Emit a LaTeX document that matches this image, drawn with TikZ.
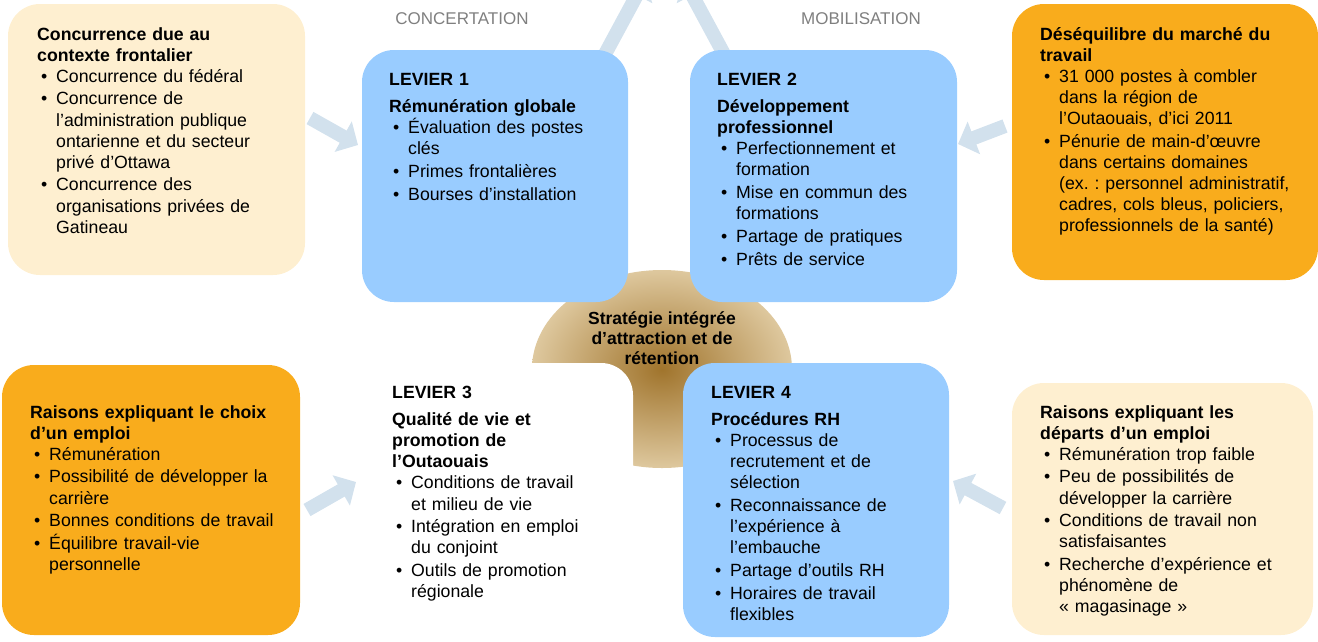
\documentclass[tikz,border=0pt]{standalone}
\usepackage{fontspec}
\setmainfont{Liberation Sans}
\frenchspacing
\usepackage{enumitem}
\setlist[itemize]{label=\textbullet, leftmargin=19pt, labelwidth=15pt, labelsep=0pt, align=left,
  topsep=0pt, partopsep=0pt, parsep=0pt, itemsep=1.6pt}
\usetikzlibrary{arrows.meta, shapes.geometric}
\definecolor{fondbeige}{RGB}{254,239,208}
\definecolor{fondorange}{RGB}{249,172,28}
\definecolor{fondbleu}{RGB}{153,204,255}
\definecolor{flechegris}{RGB}{210,225,237}
\definecolor{brunfonce}{RGB}{160,116,44}
\definecolor{brunclair}{RGB}{222,200,158}
\definecolor{grisetiq}{RGB}{127,127,127}
\tikzset{boite/.style={rectangle, rounded corners=32pt, inner sep=0pt},
	texte/.style={anchor=north west, inner sep=0pt, align=left, text width=#1,
		font=\fontsize{17.7}{21.1}\selectfont},
	centre/.style={align=center, inner sep=0pt, font=\bfseries\fontsize{17.5}{20}\selectfont},
	etiquette/.style={text=grisetiq, inner sep=0pt, font=\fontsize{17}{19}\selectfont},
	fleche/.style={draw=flechegris, line width=14pt, -{Triangle[length=17pt, width=34pt]}} }

\begin{document}
\begin{tikzpicture}[x=1pt, y=-1pt]
  \useasboundingbox (0,0) rectangle (1318,641);
  \clip (0,0) rectangle (1318,641);

  % fleches
  \coordinate (fa1) at (310,118);  \coordinate (fa2) at (358,145);
  \coordinate (fb1) at (1005,126); \coordinate (fb2) at (958,144);
  \coordinate (fc1) at (307,510);  \coordinate (fc2) at (356,482);
  \coordinate (fd1) at (1003,508); \coordinate (fd2) at (953,481);
  \coordinate (fh1) at (604,56);   \coordinate (fh2) at (645,-20);
  \coordinate (fi1) at (725,56);   \coordinate (fi2) at (684,-20);
  \foreach \a/\b in {fa1/fa2, fb1/fb2, fc1/fc2, fd1/fd2, fh1/fh2, fi1/fi2}
    \draw [fleche] (\a) -- (\b);

  % strategie
  \node (strat) [ellipse, inner sep=0pt, minimum width=260pt, minimum height=198pt,
    shade, inner color=brunfonce, outer color=brunclair] at (662,369) {};

  % boites
  \node (concur)  [boite, fill=fondbeige,  minimum width=297pt, minimum height=271pt] at (156.5,139.5) {};
  \node (lev1)    [boite, fill=fondbleu,   minimum width=266pt, minimum height=252pt] at (495,176) {};
  \node (lev2)    [boite, fill=fondbleu,   minimum width=267pt, minimum height=252pt] at (823.5,176) {};
  \node (desequ)  [boite, fill=fondorange, minimum width=306pt, minimum height=276pt] at (1165,142) {};
  \node (choix)   [boite, fill=fondorange, minimum width=298pt, minimum height=270pt] at (151,500) {};
  \node (lev3)    [boite, fill=white,      minimum width=268pt, minimum height=269pt] at (499,497.5) {};
  \node (lev4)    [boite, fill=fondbleu,   minimum width=266pt, minimum height=274pt] at (816,500) {};
  \node (departs) [boite, fill=fondbeige,  minimum width=301pt, minimum height=252pt] at (1162.5,509) {};

  % etiquettes
  \node (concert) [etiquette] at (462,19) {CONCERTATION};
  \node (mobil)   [etiquette] at (861,19) {MOBILISATION};
  \node (strattxt) [centre] at (662,338) {Stratégie intégrée\\d’attraction et de\\rétention};

  % textes
  \node (tconcur) [texte=270pt] at (37,27) {\textbf{Concurrence due au\newline contexte frontalier}
    \begin{itemize}
      \item Concurrence du fédéral
      \item Concurrence de\newline l’administration publique\newline ontarienne et du secteur\newline privé d’Ottawa
      \item Concurrence des\newline organisations privées de\newline Gatineau
    \end{itemize}};
  \node (tlev1) [texte=230pt] at (389,73) {\textbf{LEVIER 1}\par\vspace{6pt}\textbf{Rémunération globale}
    \begin{itemize}
      \item Évaluation des postes\newline clés
      \item Primes frontalières
      \item Bourses d’installation
    \end{itemize}};
  \node (tlev2) [texte=240pt] at (717,73) {\textbf{LEVIER 2}\par\vspace{6pt}\textbf{Développement\newline professionnel}
    \begin{itemize}
      \item Perfectionnement et\newline formation
      \item Mise en commun des\newline formations
      \item Partage de pratiques
      \item Prêts de service
    \end{itemize}};
  \node (tdesequ) [texte=275pt] at (1040,27) {\textbf{Déséquilibre du marché du\newline travail}
    \begin{itemize}
      \item 31 000 postes à combler\newline dans la région de\newline l’Outaouais, d’ici 2011
      \item Pénurie de main-d’œuvre\newline dans certains domaines\newline (ex.~: personnel administratif,\newline cadres, cols bleus, policiers,\newline professionnels de la santé)
    \end{itemize}};
  \node (tchoix) [texte=265pt] at (30,405) {\textbf{Raisons expliquant le choix\newline d’un emploi}
    \begin{itemize}
      \item Rémunération
      \item Possibilité de développer la\newline carrière
      \item Bonnes conditions de travail
      \item Équilibre travail-vie\newline personnelle
    \end{itemize}};
  \node (tlev3) [texte=230pt] at (392,386) {\textbf{LEVIER 3}\par\vspace{6pt}\textbf{Qualité de vie et\newline promotion de\newline l’Outaouais}
    \begin{itemize}
      \item Conditions de travail\newline et milieu de vie
      \item Intégration en emploi\newline du conjoint
      \item Outils de promotion\newline régionale
    \end{itemize}};
  \node (tlev4) [texte=230pt] at (711,386) {\textbf{LEVIER 4}\par\vspace{6pt}\textbf{Procédures RH}
    \begin{itemize}
      \item Processus de\newline recrutement et de\newline sélection
      \item Reconnaissance de\newline l’expérience à\newline l’embauche
      \item Partage d’outils RH
      \item Horaires de travail\newline flexibles
    \end{itemize}};
  \node (tdeparts) [texte=270pt] at (1040,405) {\textbf{Raisons expliquant les\newline départs d’un emploi}
    \begin{itemize}
      \item Rémunération trop faible
      \item Peu de possibilités de\newline développer la carrière
      \item Conditions de travail non\newline satisfaisantes
      \item Recherche d’expérience et\newline phénomène de\newline «~magasinage~»
    \end{itemize}};
\end{tikzpicture}
\end{document}
